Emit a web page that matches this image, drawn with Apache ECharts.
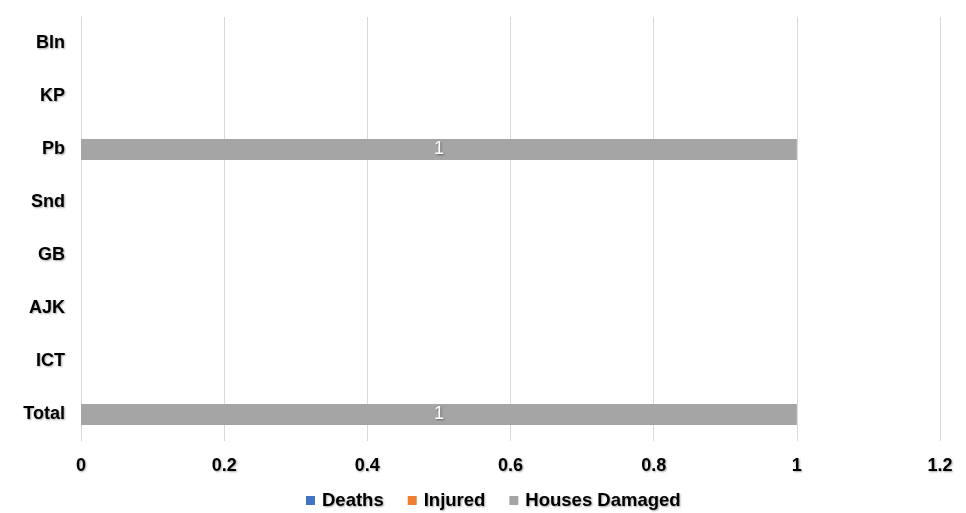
<!DOCTYPE html>
<html>
<head>
<meta charset="utf-8">
<script src="https://cdn.jsdelivr.net/npm/echarts@6/dist/echarts.min.js"></script>
<style>
  html, body { margin: 0; padding: 0; background: #fff; }
  #main { width: 966px; height: 513px; }
</style>
</head>
<body>
<div id="main"></div>
<script>
var categories = ["Bln", "KP", "Pb", "Snd", "GB", "AJK", "ICT", "Total"];
var deaths = [0, 0, 0, 0, 0, 0, 0, 0];
var injured = [0, 0, 0, 0, 0, 0, 0, 0];
var housesDamaged = [0, 0, 1, 0, 0, 0, 0, 1];
var xTicks = [0, 0.2, 0.4, 0.6, 0.8, 1, 1.2];

var chart = echarts.init(document.getElementById("main"));

// shadowed bold text like the office chart
var txt = {
    fontFamily: "Liberation Sans, Arial, sans-serif",
    fontWeight: "bold",
    fontSize: 18,
    color: "#000",
    textShadowColor: "rgba(0,0,0,0.35)",
    textShadowBlur: 2,
    textShadowOffsetX: 1,
    textShadowOffsetY: 1
};

function makeSeries(name, data, color) {
    return {
        name: name,
        type: "bar",
        stack: "all",
        data: data,
        barWidth: "40%",
        itemStyle: { color: color },
        label: {
            show: true,
            position: "inside",
            formatter: function (p) { return p.value ? p.value : ""; },
            color: "#fff",
            fontFamily: "Liberation Sans, Arial, sans-serif",
            fontSize: 18,
            textShadowColor: "rgba(0,0,0,0.4)",
            textShadowBlur: 2,
            textShadowOffsetX: 1,
            textShadowOffsetY: 1
        }
    };
}

var option = {
    animation: false,
    grid: { left: 81, right: 26, top: 17, bottom: 72, containLabel: false },
    legend: {
        left: 306,
        bottom: 3,
        padding: 0,
        itemWidth: 9,
        itemHeight: 9,
        itemGap: 24,
        icon: "rect",
        textStyle: Object.assign({}, txt, { padding: [0, 0, 0, 2], fontSize: 18.5 }),
        data: ["Deaths", "Injured", "Houses Damaged"]
    },
    xAxis: {
        type: "value",
        min: xTicks[0],
        max: xTicks[xTicks.length - 1],
        interval: 0.2,
        axisLine: { show: false },
        axisTick: { show: false },
        splitLine: { lineStyle: { color: "#d9d9d9", width: 1 } },
        axisLabel: Object.assign({}, txt, {
            margin: 16,
            formatter: function (v) { return String(Math.round(v * 10) / 10); }
        })
    },
    yAxis: {
        type: "category",
        inverse: true,
        data: categories,
        axisLine: { show: true, lineStyle: { color: "#d9d9d9" } },
        axisTick: { show: false },
        axisLabel: Object.assign({}, txt, { margin: 16 })
    },
    series: [
        makeSeries("Deaths", deaths, "#4472C4"),
        makeSeries("Injured", injured, "#ED7D31"),
        makeSeries("Houses Damaged", housesDamaged, "#A5A5A5")
    ]
};

chart.setOption(option);
</script>
</body>
</html>
